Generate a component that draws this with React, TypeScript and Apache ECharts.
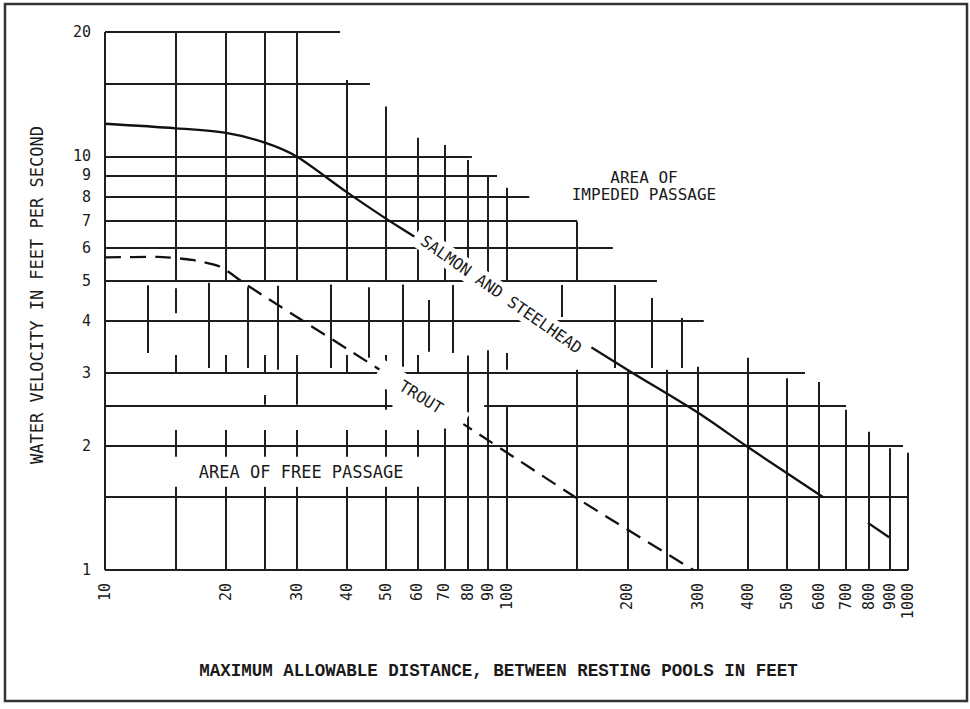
import React, { useEffect, useRef } from "react";
import * as echarts from "echarts";

// ---- tick labels ----
const xTickValues = [10, 20, 30, 40, 50, 60, 70, 80, 90, 100, 200, 300, 400, 500, 600, 700, 800, 900, 1000];
const xTickLabels = ["10", "20", "30", "40", "50", "60", "70", "80", "90", "100", "200", "300", "400", "500", "600", "700", "800", "900", "1000"];
const yTickValues = [1, 2, 3, 4, 5, 6, 7, 8, 9, 10, 20];
const yTickLabels = ["1", "2", "3", "4", "5", "6", "7", "8", "9", "10", "20"];

// ---- staircase grid as drawn on the sheet (feet, ft/s) ----
// horizontal rules: velocity, from distance, to distance
const hSegY = [20, 15, 10, 9, 8, 7, 6, 5, 4, 3, 2.5, 2.5, 2, 1.5, 1];
const hSegFrom = [10, 10, 10, 10, 10, 10, 10, 10, 10, 10, 10, 88, 10, 10, 10];
const hSegTo = [38.5, 45.7, 82, 94.7, 114, 150, 184, 237, 310, 554, 52, 701, 972, 1000, 1000];
// vertical rules: distance, from velocity, to velocity
const vSegX = [
  10,
  15, 15, 15, 15, 15,
  20, 20, 20, 20,
  25, 25, 25, 25, 25,
  30, 30, 30, 30,
  40, 40, 40, 40,
  50, 50, 50, 50,
  60, 60, 60, 60,
  70, 70, 80, 80, 90, 90, 100, 100, 100,
  150, 150, 200, 250, 300, 400, 500, 600, 700, 800, 900, 1000,
  12.8, 18.1, 22.7, 26.9, 36.4, 45.4, 55, 64, 73.3, 137, 186, 230, 273,
];
const vSegLo = [
  1,
  5.03, 4.18, 3.0, 1.88, 1,
  5.03, 3.0, 1.88, 1,
  5.03, 3.0, 2.51, 1.88, 1,
  5.03, 2.51, 1.88, 1,
  5.03, 3.0, 1.88, 1,
  5.03, 2.44, 1.88, 1,
  5.03, 3.0, 1.88, 1,
  5.03, 1, 5.03, 1, 5.03, 1, 5.03, 1, 3.05,
  5.03, 1, 1, 1, 1, 1, 1, 1, 1, 1, 1, 1,
  3.35, 3.08, 3.08, 3.05, 3.08, 3.26, 3.1, 3.37, 3.35, 4.09, 3.08, 3.08, 3.08,
];
const vSegHi = [
  20,
  20, 4.8, 3.31, 2.18, 1.59,
  20, 3.31, 2.18, 1.59,
  20, 3.31, 2.65, 2.18, 1.59,
  20, 3.31, 2.18, 1.59,
  15.3, 3.31, 2.18, 1.59,
  13.2, 3.31, 2.18, 1.59,
  11.1, 3.31, 2.18, 1.59,
  10.66, 2.2, 9.8, 3.3, 9.0, 3.4, 8.4, 2.5, 3.35,
  6.95, 3.05, 3.05, 3.05, 3.1, 3.26, 2.91, 2.85, 2.44, 2.16, 1.97, 1.92,
  4.88, 4.95, 4.83, 4.87, 4.9, 4.83, 4.9, 4.5, 4.89, 4.89, 4.89, 4.55, 4.07,
];

// ---- curves ----
const salmonX = [10, 15, 20, 25, 30, 40, 54, 200, 300, 400, 615];
const salmonY = [12, 11.7, 11.4, 10.8, 10, 8.2, 6.75, 3.05, 2.4, 1.98, 1.5];
const salmonTailX = [795, 897];
const salmonTailY = [1.3, 1.2];
const troutX = [10, 13.5, 16.5, 19.3, 22.6, 47.6, 86, 150, 292];
const troutY = [5.7, 5.72, 5.62, 5.42, 4.88, 3.08, 2.12, 1.49, 1.0];

// ---- annotations (feet, ft/s) ----
const salmonLabelAt = [97, 4.64];
const troutLabelAt = [61.3, 2.62];
const impededLine1At = [220, 8.92];
const impededLine2At = [220, 8.07];
const freeLabelAt = [30.8, 1.726];

const Lg = Math.log10;
const MONO = "DejaVu Sans Mono";
const INK = "#1a1a1a";

function labelFor(values: number[], labels: string[], v: number) {
  const i = values.findIndex((t) => Math.abs(Lg(t) - v) < 1e-6);
  return i >= 0 ? labels[i] : "";
}

function annot(at: number[], text: string, rotate: number, pad: number[], size: number, bg: boolean) {
  return {
    coord: [Lg(at[0]), Lg(at[1])],
    symbol: "circle",
    symbolSize: 1,
    itemStyle: { color: "rgba(0,0,0,0)" },
    label: {
      show: true,
      position: "inside",
      formatter: text,
      rotate,
      color: INK,
      fontFamily: MONO,
      fontSize: size,
      lineHeight: size,
      backgroundColor: bg ? "#ffffff" : "transparent",
      padding: pad,
      align: "center",
      verticalAlign: "middle",
    },
  };
}

export default function App() {
  const ref = useRef<HTMLDivElement>(null);
  useEffect(() => {
    if (!ref.current) return;
    const chart = echarts.init(ref.current, undefined, { renderer: "svg" });
    const gridData = [
      ...hSegY.map((y, i) => ({ coords: [[Lg(hSegFrom[i]), Lg(y)], [Lg(hSegTo[i]), Lg(y)]] })),
      ...vSegX.map((x, i) => ({ coords: [[Lg(x), Lg(vSegLo[i])], [Lg(x), Lg(vSegHi[i])]] })),
    ];
    chart.setOption({
      animation: false,
      backgroundColor: "#ffffff",
      grid: { left: 105, right: 62, top: 32, bottom: 139 },
      xAxis: {
        type: "value",
        min: 1,
        max: 3,
        axisLine: { show: false },
        axisTick: { show: false },
        splitLine: { show: false },
        axisLabel: {
          customValues: xTickValues.map(Lg),
          formatter: (v: number) => labelFor(xTickValues, xTickLabels, v),
          rotate: 90,
          margin: 13,
          fontFamily: MONO,
          fontSize: 15,
          color: INK,
        },
        name: "MAXIMUM ALLOWABLE DISTANCE, BETWEEN RESTING POOLS IN FEET",
        nameLocation: "middle",
        nameGap: 92,
        nameTextStyle: {
          fontFamily: "Liberation Mono",
          fontWeight: "bold",
          fontSize: 17.5,
          color: INK,
          padding: [0, 16, 0, 0],
        },
      },
      yAxis: {
        type: "value",
        min: 0,
        max: Lg(20),
        axisLine: { show: false },
        axisTick: { show: false },
        splitLine: { show: false },
        axisLabel: {
          customValues: yTickValues.map(Lg),
          formatter: (v: number) => labelFor(yTickValues, yTickLabels, v),
          margin: 14,
          fontFamily: MONO,
          fontSize: 15,
          color: INK,
        },
        name: "WATER VELOCITY IN FEET PER SECOND",
        nameLocation: "middle",
        nameGap: 60,
        nameRotate: 90,
        nameTextStyle: {
          fontFamily: MONO,
          fontSize: 17,
          color: INK,
          padding: [0, 0, 0, 12],
        },
      },
      series: [
        {
          type: "lines",
          coordinateSystem: "cartesian2d",
          silent: true,
          z: 1,
          lineStyle: { color: "#1e1e1e", width: 2, opacity: 1 },
          data: gridData,
        },
        {
          type: "line",
          name: "Salmon and steelhead",
          symbol: "none",
          smooth: 0.3,
          z: 3,
          lineStyle: { color: "#111111", width: 2.3 },
          data: salmonX.map((x, i) => [Lg(x), Lg(salmonY[i])]),
          markPoint: {
            silent: true,
            data: [
              annot(salmonLabelAt, "SALMON AND STEELHEAD", -35, [3, 8], 16, true),
              annot(impededLine1At, "AREA OF", 0, [0, 0], 16, false),
              annot(impededLine2At, "IMPEDED PASSAGE", 0, [0, 0], 16, false),
            ],
          },
        },
        {
          type: "line",
          name: "Salmon and steelhead (tail)",
          symbol: "none",
          z: 3,
          lineStyle: { color: "#111111", width: 2.3 },
          data: salmonTailX.map((x, i) => [Lg(x), Lg(salmonTailY[i])]),
        },
        {
          type: "line",
          name: "Trout",
          symbol: "none",
          smooth: 0.2,
          z: 3,
          lineStyle: { color: "#111111", width: 2.3, type: [16, 9] },
          data: troutX.map((x, i) => [Lg(x), Lg(troutY[i])]),
          markPoint: {
            silent: true,
            data: [
              annot(troutLabelAt, "TROUT", -32, [4, 26], 16, true),
              annot(freeLabelAt, "AREA OF FREE PASSAGE", 0, [6, 6], 17, true),
            ],
          },
        },
      ],
      graphic: [
        {
          type: "rect",
          silent: true,
          z: 100,
          shape: { x: 5, y: 4, width: 962, height: 697 },
          style: { fill: "none", stroke: "#333333", lineWidth: 2.5 },
        },
      ],
    });
    return () => chart.dispose();
  }, []);
  return (
    <div
      ref={ref}
      style={{ position: "fixed", left: 0, top: 0, width: 970, height: 709, background: "#fff" }}
    />
  );
}
